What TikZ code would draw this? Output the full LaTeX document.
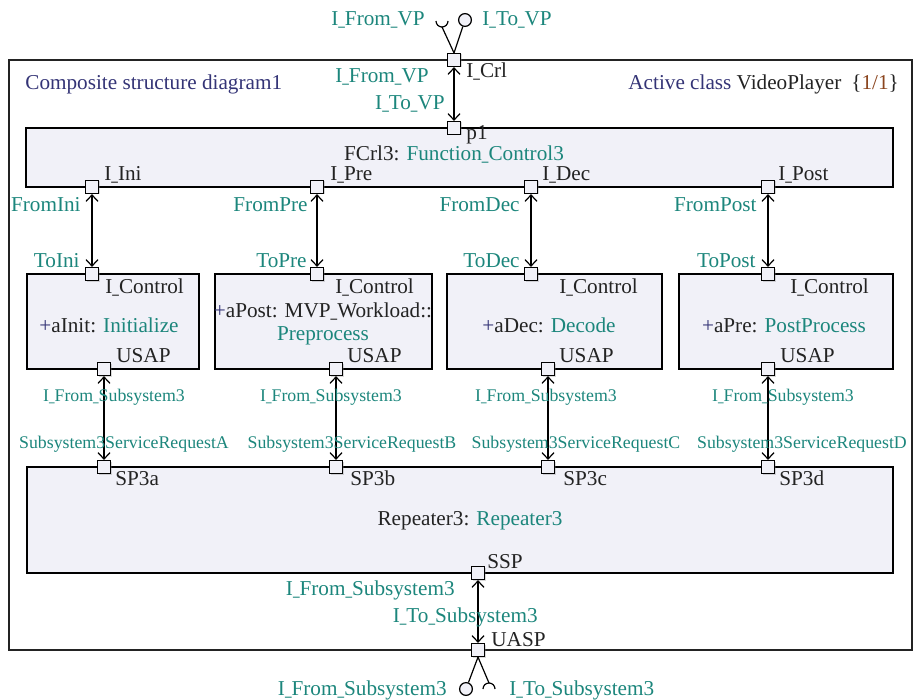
\documentclass[tikz,border=0pt]{standalone}
\usepackage{graphicx}
\usepackage{fontspec}
\setmainfont{Liberation Serif}
\usetikzlibrary{arrows.meta,fit,shadows}

\definecolor{sigcol}{RGB}{28,134,124}
\definecolor{navycol}{RGB}{52,52,118}
\definecolor{numcol}{RGB}{139,69,30}
\definecolor{inkcol}{RGB}{35,35,35}
\definecolor{boxfill}{RGB}{241,241,248}

\newcommand{\sig}[1]{\textcolor{sigcol}{#1}}
\newcommand{\usc}{\scalebox{0.62}[1]{\_}}

\begin{document}
\begin{tikzpicture}[
            x=0.5pt, y=-0.5pt,
            every node/.style={text=inkcol},
            txt/.style={inner sep=0pt, font=\fontsize{10.6}{12.5}\selectfont},
            smalltxt/.style={inner sep=0pt, text=sigcol, font=\fontsize{8.9}{10.5}\selectfont},
            framebox/.style={draw=inkcol, line width=0.7pt, inner sep=0pt},
            partbox/.style={
                draw=black,
                fill=boxfill,
                line width=0.65pt,
                inner sep=0pt,
                drop shadow={shadow xshift=0.7pt, shadow yshift=-0.7pt, opacity=0.3}
            },
            port/.style={
                draw=black,
                fill=boxfill,
                line width=0.6pt,
                minimum size=6.5pt,
                inner sep=0pt,
                drop shadow={shadow xshift=0.5pt, shadow yshift=-0.5pt, opacity=0.3}
            },
            lolly/.style={draw=black, fill=boxfill, circle, line width=0.6pt, minimum size=6.4pt, inner sep=0pt},
            wire/.style={draw=black, line width=0.6pt},
            conn/.style={wire, <->, >={Straight Barb[length=3.2pt, width=6pt]}}
        ]
            \useasboundingbox (0,0) rectangle (914,700);

            % the active class frame
            \node[framebox, fit={(9,60) (912,650)}] (vp) {};
            \node[txt, text=navycol, anchor=base west] (title) at (25,90) {Composite structure diagram1};
            \node[txt, anchor=base west] (cls) at (628,90)
                {\textcolor{navycol}{Active class} VideoPlayer\hspace{5pt}\{\textcolor{numcol}{1/1}\}};

            % parts
            \node[partbox, fit={(26,128) (893,187)}] (fcrl) {};
            \node[partbox, fit={(27,274) (199,369)}] (init) {};
            \node[partbox, fit={(215,274) (432,369)}] (pre) {};
            \node[partbox, fit={(447,274) (662,369)}] (dec) {};
            \node[partbox, fit={(679,274) (893,369)}] (post) {};
            \node[partbox, fit={(27,467) (893,573)}] (rep) {};

            % ports
            \node[port] (crl) at (454,60) {};
            \node[port] (p1) at (454,128) {};
            \node[port] (ini) at (92,187) {};
            \node[port] (ipre) at (317,187) {};
            \node[port] (idec) at (531,187) {};
            \node[port] (ipost) at (768,187) {};
            \node[port] (ctlinit) at (92,274) {};
            \node[port] (ctlpre) at (317,274) {};
            \node[port] (ctldec) at (531,274) {};
            \node[port] (ctlpost) at (768,274) {};
            \node[port] (usapinit) at (104,369) {};
            \node[port] (usappre) at (336,369) {};
            \node[port] (usapdec) at (548,369) {};
            \node[port] (usappost) at (768,369) {};
            \node[port] (sp3a) at (104,467) {};
            \node[port] (sp3b) at (336,467) {};
            \node[port] (sp3c) at (548,467) {};
            \node[port] (sp3d) at (768,467) {};
            \node[port] (ssp) at (478,573) {};
            \node[port] (uasp) at (478,650) {};

            % provided and required interfaces
            \node[lolly] (tovp) at (465,20) {};
            \coordinate (fromvp) at (442,27);
            \draw[wire] (crl.north) -- (tovp);
            \draw[wire] (crl.north) -- (fromvp);
            \draw[wire] ([xshift=-3pt, yshift=3pt]fromvp) arc[start angle=180, end angle=360, radius=3pt];

            \node[lolly] (fromsub) at (466,689) {};
            \coordinate (tosub) at (489,683);
            \draw[wire] (uasp.south) -- (fromsub);
            \draw[wire] (uasp.south) -- (tosub);
            \draw[wire] ([xshift=-3pt, yshift=-3pt]tosub) arc[start angle=180, end angle=0, radius=3pt];

            % connectors
            \draw[conn] (crl) -- (p1);
            \draw[conn] (ini) -- (ctlinit);
            \draw[conn] (ipre) -- (ctlpre);
            \draw[conn] (idec) -- (ctldec);
            \draw[conn] (ipost) -- (ctlpost);
            \draw[conn] (usapinit) -- (sp3a);
            \draw[conn] (usappre) -- (sp3b);
            \draw[conn] (usapdec) -- (sp3c);
            \draw[conn] (usappost) -- (sp3d);
            \draw[conn] (ssp) -- (uasp);

            % labels at the top
            \node[txt, text=sigcol, anchor=base east] (lblfromvp) at (425,26) {I\usc From\usc VP};
            \node[txt, text=sigcol, anchor=base west] (lbltovp) at (482,26) {I\usc To\usc VP};
            \node[txt, anchor=base west] (lblcrl) at (466,78) {I\usc Crl};
            \node[txt, text=sigcol, anchor=base east] (lblfromvpin) at (429,83) {I\usc From\usc VP};
            \node[txt, text=sigcol, anchor=base east] (lbltovpin) at (445,110) {I\usc To\usc VP};
            \node[txt, anchor=base west] (lblp1) at (466,140) {p1};
            \node[txt, anchor=base] (lblfcrl) at (454,161) {FCrl3: \sig{Function\usc Control3}};

            % control ports
            \node[txt, anchor=base west] (lblini) at (104,181) {I\usc Ini};
            \node[txt, anchor=base west] (lblpre) at (330,181) {I\usc Pre};
            \node[txt, anchor=base west] (lbldec) at (542,181) {I\usc Dec};
            \node[txt, anchor=base west] (lblpost) at (778,181) {I\usc Post};
            \node[txt, text=sigcol, anchor=base east] (lblfromini) at (81,212) {FromIni};
            \node[txt, text=sigcol, anchor=base east] (lbltoini) at (80,267) {ToIni};
            \node[txt, text=sigcol, anchor=base east] (lblfrompre) at (308,212) {FromPre};
            \node[txt, text=sigcol, anchor=base east] (lbltopre) at (307,267) {ToPre};
            \node[txt, text=sigcol, anchor=base east] (lblfromdec) at (520,212) {FromDec};
            \node[txt, text=sigcol, anchor=base east] (lbltodec) at (520,267) {ToDec};
            \node[txt, text=sigcol, anchor=base east] (lblfrompost) at (757,212) {FromPost};
            \node[txt, text=sigcol, anchor=base east] (lbltopost) at (756,267) {ToPost};

            % inside the parts
            \node[txt, anchor=base west] (lblctlinit) at (105,293) {I\usc Control};
            \node[txt, anchor=base west] (lblctlpre) at (335,293) {I\usc Control};
            \node[txt, anchor=base west] (lblctldec) at (559,293) {I\usc Control};
            \node[txt, anchor=base west] (lblctlpost) at (790,293) {I\usc Control};
            \node[txt, anchor=base] (lblinit) at (109,332) {\textcolor{navycol}{+}aInit: \sig{Initialize}};
            \node[txt, anchor=base] (lblprea) at (323,317) {\textcolor{navycol}{+}aPost: MVP\usc Workload::};
            \node[txt, anchor=base] (lblpreb) at (323,340) {\sig{Preprocess}};
            \node[txt, anchor=base] (lbldecode) at (549,332) {\textcolor{navycol}{+}aDec: \sig{Decode}};
            \node[txt, anchor=base] (lblpostproc) at (784,332) {\textcolor{navycol}{+}aPre: \sig{PostProcess}};
            \node[txt, anchor=base west] (lblusapinit) at (116,362) {USAP};
            \node[txt, anchor=base west] (lblusappre) at (347,362) {USAP};
            \node[txt, anchor=base west] (lblusapdec) at (559,362) {USAP};
            \node[txt, anchor=base west] (lblusappost) at (780,362) {USAP};

            % connectors to the repeater
            \node[smalltxt, anchor=base] (lblfsa) at (114,401) {I\usc From\usc Subsystem3};
            \node[smalltxt, anchor=base] (lblfsb) at (331,401) {I\usc From\usc Subsystem3};
            \node[smalltxt, anchor=base] (lblfsc) at (546,401) {I\usc From\usc Subsystem3};
            \node[smalltxt, anchor=base] (lblfsd) at (783,401) {I\usc From\usc Subsystem3};
            \node[smalltxt, anchor=base] (lblsra) at (124,448) {Subsystem3ServiceRequestA};
            \node[smalltxt, anchor=base] (lblsrb) at (352,448) {Subsystem3ServiceRequestB};
            \node[smalltxt, anchor=base] (lblsrc) at (576,448) {Subsystem3ServiceRequestC};
            \node[smalltxt, anchor=base] (lblsrd) at (802,448) {Subsystem3ServiceRequestD};

            % repeater
            \node[txt, anchor=base west] (lblsp3a) at (115,485) {SP3a};
            \node[txt, anchor=base west] (lblsp3b) at (350,485) {SP3b};
            \node[txt, anchor=base west] (lblsp3c) at (563,485) {SP3c};
            \node[txt, anchor=base west] (lblsp3d) at (779,485) {SP3d};
            \node[txt, anchor=base] (lblrep) at (470,525) {Repeater3: \sig{Repeater3}};
            \node[txt, anchor=base west] (lblssp) at (487,568) {SSP};
            \node[txt, text=sigcol, anchor=base east] (lblfromsubin) at (455,595) {I\usc From\usc Subsystem3};
            \node[txt, text=sigcol, anchor=base east] (lbltosubin) at (538,622) {I\usc To\usc Subsystem3};
            \node[txt, anchor=base west] (lbluasp) at (491,646) {UASP};

            % labels at the bottom
            \node[txt, text=sigcol, anchor=base east] (lblfromsub) at (447,695) {I\usc From\usc Subsystem3};
            \node[txt, text=sigcol, anchor=base west] (lbltosub) at (509,695) {I\usc To\usc Subsystem3};
        \end{tikzpicture}
\end{document}
